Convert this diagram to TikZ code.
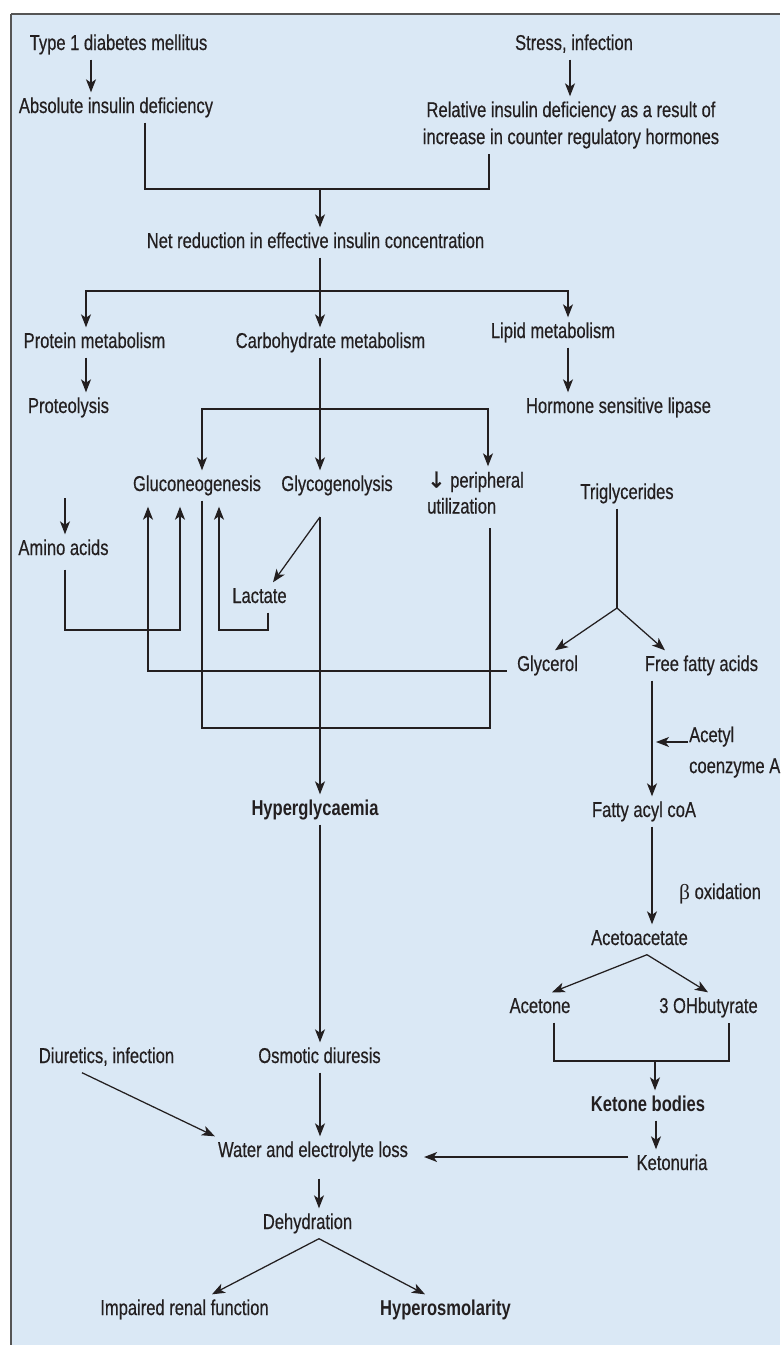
\documentclass[tikz,border=0pt]{standalone}
\usepackage{fontspec}
\setmainfont[FakeStretch=0.77, UprightFeatures={FakeBold=0.45}]{Liberation Sans}
\newfontfamily\serifbeta{Liberation Serif}
\newfontfamily\arrowfont[FakeBold=1.2]{DejaVu Sans}
\usetikzlibrary{arrows.meta}
\definecolor{bg}{HTML}{DAE8F5}
\definecolor{ink}{HTML}{231F20}
\definecolor{framec}{HTML}{555555}
\begin{document}
\begin{tikzpicture}[x=1pt,y=-1pt,
  txt/.style={font=\fontsize{21.5}{26}\selectfont, text=ink, inner xsep=3pt, inner ysep=5pt},
  lbl/.style={txt, text height=15.5pt, text depth=4.5pt, anchor=base},
  boldlbl/.style={lbl, font=\fontsize{21.5}{26}\selectfont\bfseries},
  conn/.style={draw=ink, line width=1.25pt},
  arr/.style={conn, -{Stealth[length=13pt,width=10pt,inset=3.5pt]}},
]
\useasboundingbox (0,0) rectangle (780,1345);
\fill[bg] (11,14) rectangle (780,1345);
\draw[framec, line width=2pt] (11,14) -- (780,14);
\draw[framec, line width=1.5pt] (11,14) -- (11,1345);

% ---------- nodes ----------
\node[lbl] (t1) at (118.5,50) {Type 1 diabetes mellitus};
\node[lbl] (absdef) at (116,113) {Absolute insulin deficiency};
\node[lbl] (stress) at (574,50) {Stress, infection};
\node[txt, anchor=north, align=center, font=\fontsize{21.5}{27}\selectfont] (reldef) at (571,96.3)
  {Relative insulin deficiency as a result of\\increase in counter regulatory hormones};
\node[lbl] (net) at (315.5,248) {Net reduction in effective insulin concentration};
\node[lbl] (prot) at (94.5,348) {Protein metabolism};
\node[lbl] (carb) at (330.5,348) {Carbohydrate metabolism};
\node[lbl] (lipid) at (553,338) {Lipid metabolism};
\node[lbl] (proteo) at (68.5,413) {Proteolysis};
\node[lbl] (hsl) at (618.5,413) {Hormone sensitive lipase};
\node[lbl] (gluco) at (197,491) {Gluconeogenesis};
\node[lbl] (glyco) at (337,491) {Glycogenolysis};
\node[txt, anchor=north west, align=left] (periph) at (424,466.3)
  {{\arrowfont\fontsize{22}{26}\selectfont ↓} peripheral\\utilization};
\node[lbl] (trig) at (627,499) {Triglycerides};
\node[lbl] (amino) at (63.5,555) {Amino acids};
\node[lbl] (lact) at (259.5,603) {Lactate};
\node[lbl] (glycerol) at (547.5,671) {Glycerol};
\node[lbl] (ffa) at (701.5,671) {Free fatty acids};
\node[txt, anchor=north west, align=left, inner xsep=1pt, font=\fontsize{21.5}{31}\selectfont] (acetyl) at (688,721.3)
  {Acetyl\\coenzyme A};
\node[lbl] (facoa) at (644,817) {Fatty acyl coA};
\node[boldlbl] (hyperg) at (315,815) {Hyperglycaemia};
\node[lbl] (beta) at (720,899) {{\serifbeta β} oxidation};
\node[lbl] (acac) at (639.5,945) {Acetoacetate};
\node[lbl] (acetone) at (540,1013) {Acetone};
\node[lbl] (ohb) at (708.5,1013) {3 OHbutyrate};
\node[lbl] (osm) at (319.5,1063) {Osmotic diuresis};
\node[lbl] (diur) at (106.5,1063) {Diuretics, infection};
\node[boldlbl] (ketb) at (648,1111) {Ketone bodies};
\node[lbl] (water) at (313,1157) {Water and electrolyte loss};
\node[lbl] (keton) at (672,1170) {Ketonuria};
\node[lbl] (dehyd) at (307.5,1229) {Dehydration};
\node[lbl] (renal) at (184.5,1315) {Impaired renal function};
\node[boldlbl] (hyperosm) at (445.5,1315) {Hyperosmolarity};

% ---------- column / junction coordinates ----------
\coordinate (c91) at (91,0);
\coordinate (c570) at (570,0);
\coordinate (c145) at (145,0);
\coordinate (c489) at (489,0);
\coordinate (c86) at (86,0);
\coordinate (c568) at (568,0);
\coordinate (c202) at (202,0);
\coordinate (c488) at (488,0);
\coordinate (c65) at (65,0);
\coordinate (c268) at (268,0);
\coordinate (c148) at (148,0);
\coordinate (c273) at (273,0);
\coordinate (c555) at (555,0);
\coordinate (c665) at (665,0);
\coordinate (c652) at (652,0);
\coordinate (c647) at (647,0);
\coordinate (c552) at (552,0);
\coordinate (c708) at (708,0);
\coordinate (c554) at (554,0);
\coordinate (c729) at (729,0);
\coordinate (c656) at (656,0);
\coordinate (c320) at (320,0);
\coordinate (c82) at (82,0);
\coordinate (c319) at (319,0);
\coordinate (c212) at (212,0);
\coordinate (c425) at (425,0);
\coordinate (j1) at (320,189);
\coordinate (j2) at (320,291);
\coordinate (j3) at (320,409);
\coordinate (a0) at (65,498);
\coordinate (j4) at (180,630);
\coordinate (j5) at (219,630);
\coordinate (j7) at (320,517);
\coordinate (j8) at (490,728);
\coordinate (j9) at (617,608);
\coordinate (k1) at (656,742);
\coordinate (j10) at (655,1061);
\coordinate (k2) at (0,1157);

% ---------- connectors ----------
\draw[arr] (t1.south -| c91) -- (absdef.north -| c91);
\draw[arr] (stress.south -| c570) -- (reldef.north -| c570);
\draw[conn] (absdef.south -| c145) |- (j1) -| (reldef.south -| c489);
\draw[arr] (j1) -- (net.north -| j1);
\draw[conn] (net.south -| j2) -- (j2);
\draw[arr] (j2) -- (carb.north -| j2);
\draw[arr] (j2) -| (prot.north -| c86);
\draw[arr] (j2) -| (lipid.north -| c568);
\draw[arr] (prot.south -| c86) -- (proteo.north -| c86);
\draw[arr] (lipid.south -| c568) -- (hsl.north -| c568);
\draw[conn] (carb.south -| j3) -- (j3);
\draw[arr] (j3) -- (glyco.north -| j3);
\draw[arr] (j3) -| (gluco.north -| c202);
\draw[arr] (j3) -| (periph.north -| c488);
\draw[arr] (a0) -- (amino.north -| a0);
\draw[arr, shorten <=5pt, shorten >=6pt] (amino.south -| c65) |- (j4) -- (gluco.south -| j4);
\draw[arr, shorten >=6pt] (lact.south -| c268) |- (j5) -- (gluco.south -| j5);
\draw[arr, shorten <=7pt, shorten >=6pt] (glycerol.base west) -| (gluco.south -| c148);
\draw[arr] (j7) -- (hyperg.north -| j7);
\draw[arr] (j7) -- (lact.north -| c273);
\draw[conn, shorten >=9pt] (gluco.south -| c202) |- (j8) -- (periph.south -| j8);
\draw[conn] (trig.south -| j9) -- (j9);
\draw[arr] (j9) -- (glycerol.north -| c555);
\draw[arr] (j9) -- (ffa.north -| c665);
\draw[arr] (ffa.south -| c652) -- (facoa.north -| c652);
\draw[arr] (acetyl.west |- k1) -- (k1);
\draw[arr] (facoa.south -| c652) -- (acac.north -| c652);
\draw[arr] (acac.south -| c647) -- (acetone.north -| c552);
\draw[arr] (acac.south -| c647) -- (ohb.north -| c708);
\draw[conn] (acetone.south -| c554) |- (j10) -| (ohb.south -| c729);
\draw[arr] (j10) -- (ketb.north -| j10);
\draw[arr] (ketb.south -| c656) -- (keton.north -| c656);
\draw[arr, shorten <=5pt, shorten >=13pt] (keton.west |- k2) -- (water.east |- k2);
\draw[arr] (hyperg.south -| c320) -- (osm.north -| c320);
\draw[arr] (diur.south -| c82) -- (water.north west);
\draw[arr] (osm.south -| c320) -- (water.north -| c320);
\draw[arr, shorten <=12pt] (water.south -| c319) -- (dehyd.north -| c319);
\draw[arr] (dehyd.south -| c319) -- (renal.north -| c212);
\draw[arr] (dehyd.south -| c319) -- (hyperosm.north -| c425);
\end{tikzpicture}
\end{document}
